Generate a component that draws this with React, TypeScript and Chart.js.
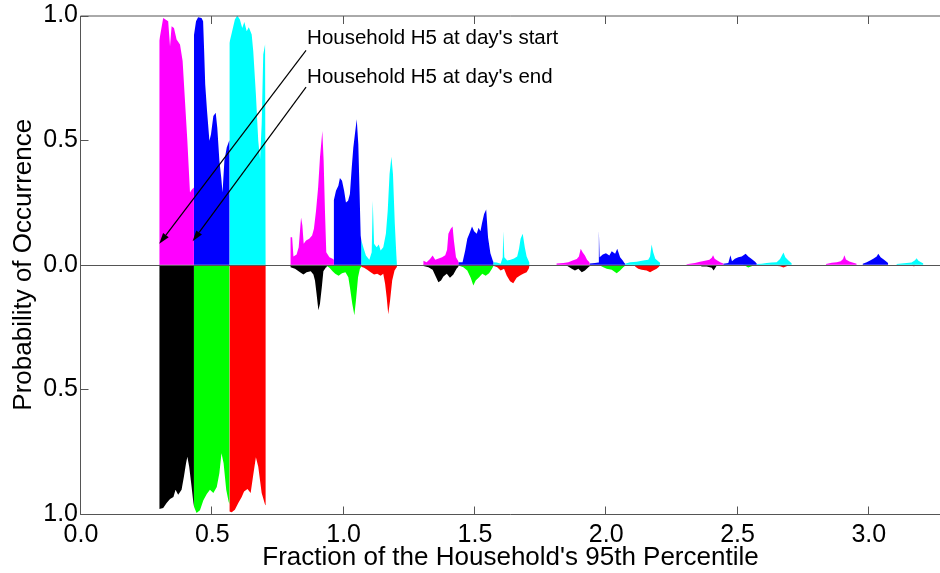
import { useEffect, useRef } from "react";
import { Chart, registerables } from "chart.js";

Chart.register(...registerables);

// Axis ticks
const xTicks = [0, 0.5, 1.0, 1.5, 2.0, 2.5, 3.0];
const yTicks = [-1, -0.5, 0, 0.5, 1];

const xTitle = "Fraction of the Household's 95th Percentile";
const yTitle = "Probability of Occurrence";
const startLabel = "Household H5 at day's start";
const endLabel = "Household H5 at day's end";

// Each series: list of segments, each segment a list of [fraction, probability]
const magentaStart = [
  [[0.298, 0.9], [0.313, 0.99], [0.332, 0.977], [0.339, 0.877], [0.345, 0.957], [0.354, 0.95], [0.364, 0.904], [0.377, 0.884], [0.387, 0.817], [0.396, 0.657], [0.405, 0.497], [0.415, 0.29], [0.421, 0.3], [0.43, 0.31]],
  [[0.798, 0.11], [0.804, 0.11], [0.809, 0.033], [0.821, 0.041], [0.829, 0.07], [0.838, 0.19], [0.843, 0.157], [0.848, 0.084], [0.857, 0.097], [0.869, 0.104], [0.88, 0.117], [0.887, 0.144], [0.895, 0.217], [0.903, 0.31], [0.91, 0.43], [0.919, 0.537], [0.924, 0.417], [0.929, 0.217], [0.934, 0.05], [0.946, 0.03], [0.958, 0.024], [0.963, 0.02]],
  [[1.304, 0.016], [1.316, 0.01], [1.329, 0.023], [1.339, 0.037], [1.349, 0.02], [1.362, 0.025], [1.375, 0.03], [1.387, 0.038], [1.394, 0.06], [1.399, 0.124], [1.408, 0.144], [1.415, 0.153], [1.42, 0.097], [1.428, 0.03], [1.437, 0.014]],
  [[1.811, 0.005], [1.837, 0.007], [1.856, 0.01], [1.872, 0.017], [1.888, 0.023], [1.896, 0.033], [1.903, 0.064], [1.91, 0.05], [1.919, 0.037], [1.927, 0.02], [1.936, 0.01], [1.938, 0.008]],
  [[2.306, 0.002], [2.338, 0.007], [2.357, 0.012], [2.376, 0.016], [2.393, 0.02], [2.402, 0.028], [2.407, 0.038], [2.413, 0.024], [2.423, 0.017], [2.436, 0.009], [2.446, 0.005]],
  [[2.837, 0.003], [2.859, 0.008], [2.878, 0.01], [2.893, 0.014], [2.902, 0.023], [2.907, 0.038], [2.913, 0.021], [2.926, 0.013], [2.941, 0.008], [2.954, 0.004]],
];

const blueStart = [
  [[0.43, 0.92], [0.438, 0.977], [0.446, 0.993], [0.459, 0.99], [0.465, 0.977], [0.469, 0.857], [0.473, 0.724], [0.48, 0.617], [0.489, 0.497], [0.495, 0.524], [0.504, 0.597], [0.513, 0.61], [0.519, 0.55], [0.527, 0.417], [0.534, 0.35], [0.539, 0.29], [0.546, 0.417], [0.555, 0.47], [0.565, 0.5]],
  [[0.963, 0.26], [0.971, 0.297], [0.98, 0.317], [0.986, 0.348], [0.994, 0.337], [1.002, 0.297], [1.009, 0.25], [1.017, 0.257], [1.024, 0.284], [1.031, 0.39], [1.037, 0.47], [1.043, 0.524], [1.05, 0.584], [1.056, 0.484], [1.06, 0.324], [1.065, 0.117], [1.067, 0.1]],
  [[1.437, 0.01], [1.453, 0.01], [1.463, 0.057], [1.471, 0.104], [1.481, 0.13], [1.489, 0.153], [1.497, 0.134], [1.507, 0.124], [1.514, 0.148], [1.521, 0.134], [1.527, 0.166], [1.535, 0.204], [1.543, 0.222], [1.55, 0.11], [1.559, 0.046], [1.568, 0.017], [1.57, 0.012]],
  [[1.938, 0.005], [1.957, 0.007], [1.97, 0.009], [1.972, 0.137], [1.975, 0.03], [1.987, 0.041], [1.999, 0.046], [2.012, 0.037], [2.021, 0.054], [2.034, 0.044], [2.042, 0.064], [2.053, 0.03], [2.063, 0.017], [2.07, 0.006], [2.072, 0.005]],
  [[2.446, 0.004], [2.465, 0.007], [2.473, 0.038], [2.479, 0.014], [2.49, 0.024], [2.503, 0.03], [2.516, 0.033], [2.531, 0.044], [2.541, 0.033], [2.554, 0.023], [2.567, 0.012], [2.573, 0.005]],
  [[2.977, 0.004], [2.992, 0.01], [3.005, 0.017], [3.017, 0.024], [3.03, 0.033], [3.036, 0.044], [3.045, 0.03], [3.058, 0.02], [3.07, 0.01], [3.074, 0.006]],
];

const cyanStart = [
  [[0.565, 0.89], [0.574, 0.93], [0.586, 0.984], [0.595, 1.0], [0.605, 0.984], [0.614, 0.95], [0.622, 0.974], [0.631, 0.937], [0.639, 0.953], [0.65, 0.924], [0.656, 0.857], [0.666, 0.684], [0.675, 0.497], [0.682, 0.424], [0.688, 0.564], [0.694, 0.844], [0.701, 0.884], [0.703, 0.88]],
  [[1.067, 0.1], [1.075, 0.07], [1.085, 0.037], [1.098, 0.02], [1.107, 0.05], [1.111, 0.257], [1.116, 0.084], [1.126, 0.07], [1.134, 0.081], [1.141, 0.057], [1.151, 0.07], [1.161, 0.124], [1.168, 0.217], [1.175, 0.364], [1.182, 0.433], [1.188, 0.364], [1.195, 0.164], [1.201, 0.037], [1.203, 0.02]],
  [[1.57, 0.01], [1.583, 0.009], [1.598, 0.004], [1.606, 0.03], [1.608, 0.134], [1.612, 0.03], [1.623, 0.017], [1.636, 0.02], [1.649, 0.025], [1.661, 0.033], [1.668, 0.064], [1.674, 0.104], [1.682, 0.124], [1.69, 0.07], [1.697, 0.033], [1.705, 0.014], [1.707, 0.01]],
  [[2.072, 0.004], [2.091, 0.01], [2.116, 0.012], [2.141, 0.017], [2.16, 0.02], [2.167, 0.033], [2.173, 0.081], [2.179, 0.05], [2.187, 0.024], [2.198, 0.014], [2.205, 0.008]],
  [[2.573, 0.003], [2.592, 0.004], [2.611, 0.007], [2.63, 0.009], [2.649, 0.01], [2.662, 0.023], [2.675, 0.049], [2.682, 0.03], [2.694, 0.017], [2.706, 0.006]],
  [[3.106, 0.003], [3.125, 0.005], [3.144, 0.007], [3.163, 0.009], [3.176, 0.018], [3.182, 0.026], [3.189, 0.016], [3.199, 0.01], [3.208, 0.005]],
];

const blackEnd = [
  [[0.298, 0.98], [0.313, 0.976], [0.326, 0.956], [0.339, 0.94], [0.352, 0.932], [0.36, 0.903], [0.37, 0.923], [0.383, 0.903], [0.392, 0.85], [0.4, 0.796], [0.405, 0.77], [0.412, 0.81], [0.421, 0.89], [0.428, 0.956], [0.43, 0.97]],
  [[0.798, 0.01], [0.815, 0.016], [0.834, 0.03], [0.847, 0.039], [0.859, 0.03], [0.875, 0.026], [0.885, 0.039], [0.891, 0.063], [0.897, 0.116], [0.904, 0.183], [0.91, 0.156], [0.917, 0.09], [0.923, 0.026], [0.933, 0.01], [0.936, 0.008]],
  [[1.304, 0.005], [1.323, 0.01], [1.339, 0.02], [1.349, 0.043], [1.361, 0.07], [1.371, 0.063], [1.38, 0.047], [1.393, 0.036], [1.405, 0.052], [1.418, 0.039], [1.43, 0.016], [1.437, 0.008]],
  [[1.849, 0.003], [1.869, 0.016], [1.881, 0.023], [1.894, 0.016], [1.907, 0.03], [1.919, 0.023], [1.932, 0.01], [1.938, 0.005]],
  [[2.357, 0.003], [2.364, 0.007], [2.383, 0.007], [2.402, 0.012], [2.409, 0.023], [2.417, 0.01], [2.421, 0.004]],
];

const greenEnd = [
  [[0.43, 0.97], [0.44, 0.996], [0.453, 0.985], [0.466, 0.945], [0.479, 0.92], [0.491, 0.903], [0.504, 0.916], [0.517, 0.892], [0.527, 0.836], [0.535, 0.756], [0.543, 0.796], [0.553, 0.903], [0.562, 0.95], [0.565, 0.96]],
  [[0.936, 0.005], [0.946, 0.012], [0.958, 0.026], [0.968, 0.036], [0.981, 0.044], [0.994, 0.034], [1.007, 0.03], [1.018, 0.05], [1.024, 0.09], [1.033, 0.156], [1.041, 0.203], [1.047, 0.143], [1.055, 0.05], [1.062, 0.016], [1.067, 0.008]],
  [[1.437, 0.003], [1.456, 0.01], [1.471, 0.023], [1.484, 0.052], [1.494, 0.083], [1.503, 0.063], [1.516, 0.05], [1.528, 0.036], [1.541, 0.044], [1.554, 0.034], [1.565, 0.016], [1.57, 0.006]],
  [[1.976, 0.003], [1.989, 0.01], [2.002, 0.016], [2.021, 0.02], [2.04, 0.034], [2.053, 0.023], [2.065, 0.01], [2.072, 0.004]],
  [[2.522, 0.002], [2.529, 0.004], [2.541, 0.011], [2.554, 0.006], [2.56, 0.002]],
];

const redEnd = [
  [[0.565, 0.99], [0.574, 0.993], [0.586, 0.983], [0.599, 0.956], [0.612, 0.932], [0.621, 0.91], [0.634, 0.9], [0.646, 0.916], [0.656, 0.843], [0.666, 0.772], [0.675, 0.81], [0.688, 0.916], [0.701, 0.963], [0.703, 0.965]],
  [[1.067, 0.008], [1.078, 0.012], [1.09, 0.02], [1.103, 0.03], [1.116, 0.039], [1.128, 0.036], [1.141, 0.044], [1.151, 0.036], [1.158, 0.076], [1.164, 0.13], [1.17, 0.199], [1.177, 0.143], [1.185, 0.063], [1.194, 0.023], [1.202, 0.01], [1.203, 0.008]],
  [[1.57, 0.004], [1.585, 0.01], [1.598, 0.023], [1.611, 0.016], [1.621, 0.043], [1.634, 0.066], [1.646, 0.074], [1.659, 0.052], [1.672, 0.043], [1.684, 0.036], [1.697, 0.03], [1.705, 0.016], [1.707, 0.008]],
  [[2.11, 0.007], [2.122, 0.016], [2.135, 0.02], [2.154, 0.023], [2.167, 0.03], [2.179, 0.023], [2.192, 0.016], [2.202, 0.007]],
  [[2.624, 0.002], [2.63, 0.003], [2.662, 0.006], [2.675, 0.011], [2.687, 0.006], [2.694, 0.002]],
  [[3.165, 0.002], [3.172, 0.007], [3.178, 0.002]],
];

// Annotation arrows in data coordinates: [tailX, tailY, headX, headY]
const startArrow = [0.857, 0.86, 0.298, 0.084];
const endArrow = [0.857, 0.713, 0.425, 0.094];
// Annotation text anchors [x, y] (left, baseline)
const startText = [0.861, 0.884];
const endText = [0.861, 0.73];

const FONT = '"Liberation Sans", Arial, Helvetica, sans-serif';
const AXIS_COLOR = "#555555";

function toPoints(segments: number[][][], sign: number) {
  const pts: { x: number; y: number }[] = [];
  for (const seg of segments) {
    pts.push({ x: seg[0][0], y: 0 });
    for (const [x, p] of seg) pts.push({ x, y: sign * p });
    pts.push({ x: seg[seg.length - 1][0], y: 0 });
  }
  return pts;
}

function ds(segments: number[][][], sign: number, color: string) {
  return {
    data: toPoints(segments, sign),
    backgroundColor: color,
    borderColor: "rgba(0,0,0,0)",
    borderWidth: 0,
    pointRadius: 0,
    pointHoverRadius: 0,
    tension: 0,
    fill: "origin",
  };
}

function drawArrow(ctx: CanvasRenderingContext2D, x1: number, y1: number, x2: number, y2: number) {
  const ang = Math.atan2(y2 - y1, x2 - x1);
  const len = 11;
  const hw = 3.5;
  const bx = x2 - len * Math.cos(ang);
  const by = y2 - len * Math.sin(ang);
  ctx.beginPath();
  ctx.moveTo(x1, y1);
  ctx.lineTo(bx, by);
  ctx.stroke();
  ctx.beginPath();
  ctx.moveTo(x2, y2);
  ctx.lineTo(bx + hw * Math.sin(ang), by - hw * Math.cos(ang));
  ctx.lineTo(bx - hw * Math.sin(ang), by + hw * Math.cos(ang));
  ctx.closePath();
  ctx.fill();
}

const framePlugin = {
  id: "matlabFrame",
  afterDatasetsDraw(chart: any) {
    const { ctx, chartArea: a, scales } = chart;
    const xs = scales.x;
    const ys = scales.y;
    ctx.save();
    ctx.strokeStyle = AXIS_COLOR;
    ctx.lineWidth = 1;
    ctx.beginPath();
    // frame: top, left, bottom
    const top = a.top + 0.5;
    const left = a.left - 0.5;
    const bottom = a.bottom + 0.5;
    ctx.moveTo(left, top);
    ctx.lineTo(a.right, top);
    ctx.moveTo(left, top);
    ctx.lineTo(left, bottom);
    ctx.moveTo(left, bottom);
    ctx.lineTo(a.right, bottom);
    // zero line
    const y0 = Math.round(ys.getPixelForValue(0)) + 0.5;
    ctx.moveTo(left, y0);
    ctx.lineTo(a.right, y0);
    // inward ticks
    for (const v of xTicks) {
      const px = Math.round(xs.getPixelForValue(v)) - 0.5;
      ctx.moveTo(px, bottom);
      ctx.lineTo(px, bottom - 8);
      ctx.moveTo(px, top);
      ctx.lineTo(px, top + 8);
    }
    for (const v of yTicks) {
      const py = Math.round(ys.getPixelForValue(v)) + 0.5;
      ctx.moveTo(left, py);
      ctx.lineTo(left + 8, py);
    }
    ctx.stroke();

    // annotations
    ctx.strokeStyle = "#000";
    ctx.fillStyle = "#000";
    ctx.lineWidth = 1.2;
    for (const arr of [startArrow, endArrow]) {
      drawArrow(
        ctx,
        xs.getPixelForValue(arr[0]),
        ys.getPixelForValue(arr[1]),
        xs.getPixelForValue(arr[2]),
        ys.getPixelForValue(arr[3])
      );
    }
    ctx.font = `20.5px ${FONT}`;
    ctx.textAlign = "left";
    ctx.textBaseline = "alphabetic";
    ctx.fillText(startLabel, xs.getPixelForValue(startText[0]), ys.getPixelForValue(startText[1]));
    ctx.fillText(endLabel, xs.getPixelForValue(endText[0]), ys.getPixelForValue(endText[1]));
    ctx.restore();
  },
};

export default function App() {
  const ref = useRef<HTMLCanvasElement | null>(null);

  useEffect(() => {
    if (!ref.current) return;
    const chart = new Chart(ref.current, {
      type: "line",
      data: {
        datasets: [
          ds(magentaStart, 1, "#ff00ff"),
          ds(blueStart, 1, "#0000ff"),
          ds(cyanStart, 1, "#00ffff"),
          ds(blackEnd, -1, "#000000"),
          ds(greenEnd, -1, "#00ff00"),
          ds(redEnd, -1, "#ff0000"),
        ] as any,
      },
      options: {
        animation: false,
        responsive: false,
        events: [],
        layout: { padding: { top: 14, left: 0, right: 0, bottom: 0 } },
        plugins: {
          legend: { display: false },
          tooltip: { enabled: false },
        },
        scales: {
          x: {
            type: "linear",
            min: 0,
            max: 3.2711,
            grid: { display: false, drawTicks: false },
            border: { display: false },
            afterBuildTicks: (s: any) => {
              s.ticks = xTicks.map((v) => ({ value: v }));
            },
            afterFit: (s: any) => {
              s.height = 59;
            },
            ticks: {
              includeBounds: false,
              autoSkip: false,
              maxRotation: 0,
              padding: 6,
              color: "#000",
              font: { family: FONT, size: 25, lineHeight: 1.2 },
              callback: (v: any) => Number(v).toFixed(1),
            },
            title: {
              display: true,
              text: xTitle,
              color: "#000",
              font: { family: FONT, size: 26, lineHeight: 1.2 },
              padding: { top: 0, bottom: 0 },
            },
          },
          y: {
            type: "linear",
            min: -1,
            max: 1,
            grid: { display: false, drawTicks: false },
            border: { display: false },
            afterBuildTicks: (s: any) => {
              s.ticks = yTicks.map((v) => ({ value: v }));
            },
            afterFit: (s: any) => {
              s.width = 81;
            },
            ticks: {
              includeBounds: false,
              autoSkip: false,
              padding: 3,
              color: "#000",
              font: { family: FONT, size: 25, lineHeight: 1 },
              callback: (v: any) => Math.abs(Number(v)).toFixed(1),
            },
            title: {
              display: true,
              text: yTitle,
              color: "#000",
              font: { family: FONT, size: 26, lineHeight: 1.2 },
              padding: { top: 8, bottom: 0 },
            },
          },
        },
      } as any,
      plugins: [framePlugin],
    });
    return () => chart.destroy();
  }, []);

  return (
    <div style={{ position: "absolute", left: 0, top: 0, width: 940, height: 573, background: "#fff" }}>
      <canvas ref={ref} width={940} height={573} style={{ display: "block" }} />
    </div>
  );
}
